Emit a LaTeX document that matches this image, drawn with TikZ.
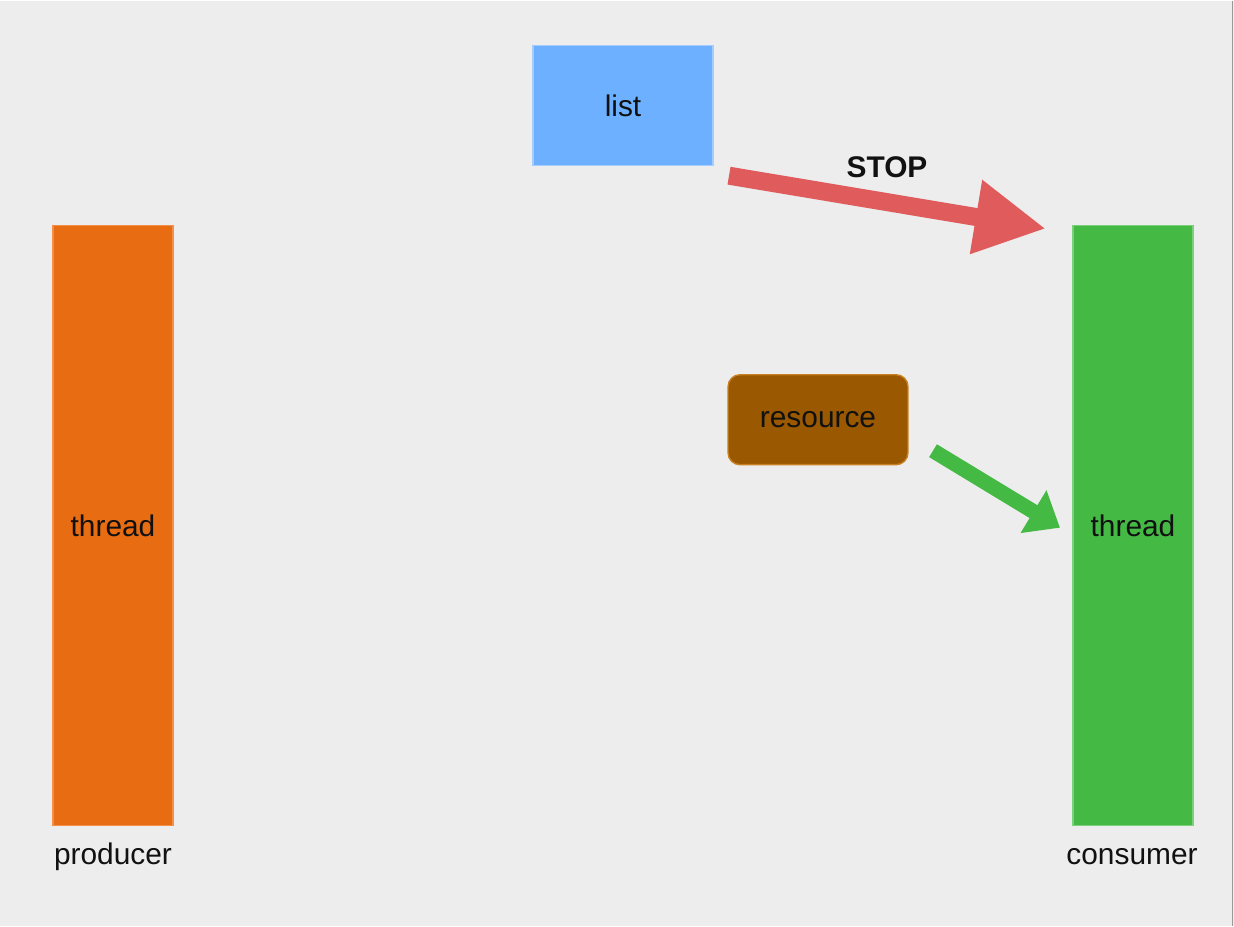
\documentclass[tikz,border=0pt]{standalone}
\usepackage{fontspec}
\setmainfont{Liberation Sans}
\usepackage{tikz}
\usetikzlibrary{arrows.meta}

\definecolor{bgcol}{HTML}{EDEDED}
\definecolor{listfill}{HTML}{6DB0FF}
\definecolor{listdraw}{HTML}{A6CBFF}
\definecolor{prodfill}{HTML}{E86C12}
\definecolor{proddraw}{HTML}{F2904A}
\definecolor{consfill}{HTML}{44B944}
\definecolor{consdraw}{HTML}{7CD07C}
\definecolor{resfill}{HTML}{9A5800}
\definecolor{resdraw}{HTML}{C88020}
\definecolor{stopred}{HTML}{E05C5C}
\definecolor{inkcol}{HTML}{111111}

\begin{document}
\begin{tikzpicture}[x=0.02cm,y=-0.02cm]
		\tikzset{box/.style={draw=#1draw,fill=#1fill,line width=0.8pt,inner sep=0pt,text=inkcol,font=\fontsize{17}{20}\selectfont},
			tag/.style={anchor=base,inner sep=0pt,text=inkcol,font=\fontsize{17}{20}\selectfont},
			fatarrow/.style={line width=#1,-{Triangle[length=1.42cm,width=1.4cm]}}};
		\fill[bgcol] (0,0) rectangle (1234,925);
		\draw[gray!80,line width=0.8pt] (1232.5,0) -- (1232.5,925);
		\node[box=list,minimum width=3.6cm,minimum height=2.4cm] (list) at (623,105) {list};
		\node[box=prod,minimum width=2.4cm,minimum height=12cm] (prodthread) at (113,525) {thread};
		\node[box=cons,minimum width=2.4cm,minimum height=12cm] (consthread) at (1133,525) {thread};
		\node[box=res,rounded corners=0.24cm,minimum width=3.6cm,minimum height=1.8cm] (resource) at (818,419) {resource};
		\node[tag] (prodlabel) at (113,864) {producer};
		\node[tag] (conslabel) at (1132,864) {consumer};
		% arrows
		\coordinate (stopfrom) at (729,175);
		\coordinate (stopto) at (1046,228);
		\coordinate (resfrom) at (933,450);
		\coordinate (resto) at (1060,527);
		\draw[stopred,line width=0.36cm,-{Triangle[length=1.42cm,width=1.4cm]}] (stopfrom) -- (stopto);
		\node[text=inkcol,font=\bfseries\fontsize{17}{20}\selectfont] (stop) at (887,167) {STOP};
		\draw[consfill,line width=0.3cm,-{Triangle[length=0.62cm,width=0.96cm]}] (resfrom) -- (resto);
	\end{tikzpicture}
\end{document}
